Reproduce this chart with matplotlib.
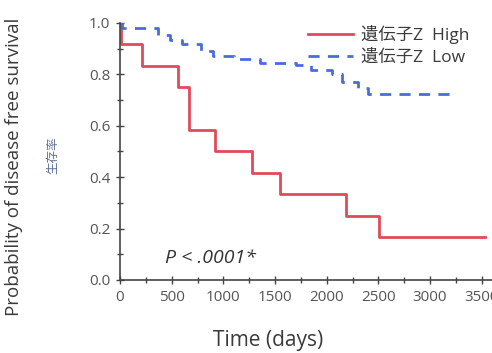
import numpy as np
import matplotlib
matplotlib.use("Agg")
import matplotlib.pyplot as plt
from matplotlib.ticker import MultipleLocator

# Kaplan-Meier steps
high_t = [0, 10, 210, 560, 670, 920, 1280, 1550, 2185, 2505, 3530]
high_s = [1.0, 0.917, 0.833, 0.75, 0.583, 0.5, 0.417, 0.333, 0.25, 0.167, 0.167]

low_t = [0, 20, 370, 480, 600, 780, 900, 1100, 1350, 1700, 1850, 2050, 2150, 2300, 2400, 3200]
low_s = [1.0, 0.98, 0.955, 0.935, 0.92, 0.89, 0.87, 0.86, 0.845, 0.835, 0.815, 0.80, 0.77, 0.745, 0.725, 0.725]

legend_labels = ["遺伝子Z  High", "遺伝子Z  Low"]
x_ticks = [0, 500, 1000, 1500, 2000, 2500, 3000, 3500]
y_ticks = [0.0, 0.2, 0.4, 0.6, 0.8, 1.0]
p_text = "P < .0001*"

txt = "#3a3a3a"
fam = ["Open Sans", "Noto Sans CJK JP", "DejaVu Sans"]
plt.rcParams["font.family"] = fam

fig = plt.figure(figsize=(4.92, 3.53), dpi=100)
ax = fig.add_axes([0.244, 0.207, 0.756, 0.728])

ax.step(high_t, high_s, where="post", color="#e04a5a", lw=2.0, label=legend_labels[0])
ax.step(low_t, low_s, where="post", color="#4a6be0", lw=2.0, ls=(0, (4, 3)),
        label=legend_labels[1])

ax.set_xlim(0, 3600)
ax.set_ylim(0, 1.0)
ax.set_xticks(x_ticks)
ax.set_yticks(y_ticks)
ax.set_yticklabels([f"{v:.1f}" for v in y_ticks])
ax.xaxis.set_minor_locator(MultipleLocator(250))
ax.yaxis.set_minor_locator(MultipleLocator(0.1))
ax.tick_params(which="both", direction="inout", colors="#444444", labelcolor="#555555",
               labelsize=11, pad=4)
ax.tick_params(which="major", length=6, width=1)
ax.tick_params(which="minor", length=4, width=1)

for side in ["top", "right"]:
    ax.spines[side].set_visible(False)
for side in ["left", "bottom"]:
    ax.spines[side].set_color("#444444")
    ax.spines[side].set_linewidth(1.2)

fig.text(0.545, 0.035, "Time (days)", fontsize=15, color=txt, ha="center", va="center")
fig.text(0.028, 0.527, "Probability of disease free survival", rotation=90,
         fontsize=13.5, color=txt, ha="center", va="center")
fig.text(0.108, 0.56, "生存率", rotation=90, fontsize=9, color="#5f6f98",
         ha="center", va="center")

ax.text(0.12, 0.085, p_text, transform=ax.transAxes, fontsize=14, style="italic",
        color="#333333", ha="left", va="center")

ax.legend(loc="upper left", bbox_to_anchor=(0.625, 0.928), bbox_transform=fig.transFigure,
          frameon=False, fontsize=12.5, handlelength=2.6, handletextpad=0.5,
          labelspacing=0.3, labelcolor=txt, borderaxespad=0.0, borderpad=0.0)

fig.savefig("out.png", dpi=100)
